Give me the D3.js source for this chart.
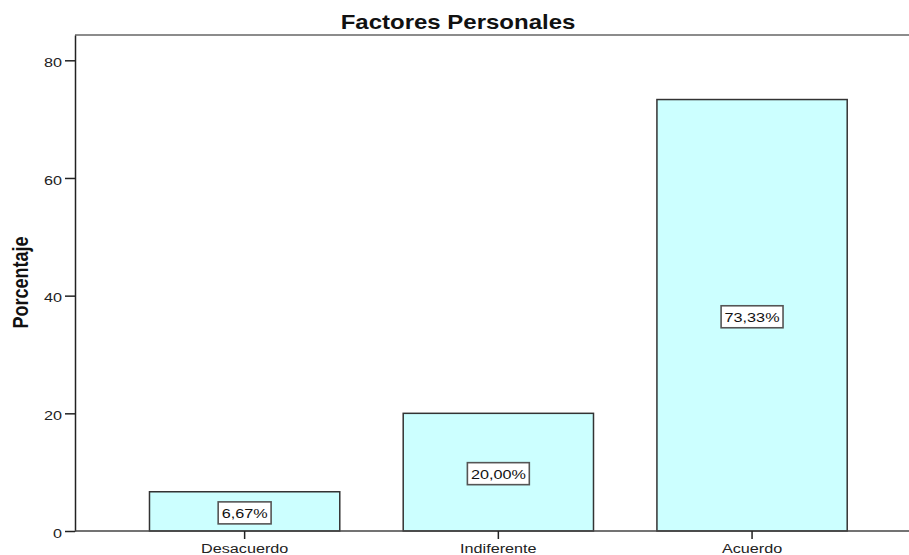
<!DOCTYPE html>
<html>
<head>
<meta charset="utf-8">
<script src="https://cdn.jsdelivr.net/npm/d3@7"></script>
<style>
  html, body { margin: 0; padding: 0; background: #ffffff; }
  svg { display: block; font-family: Arial, "Liberation Sans", Helvetica, sans-serif; }
</style>
</head>
<body>
<svg id="chart" width="909" height="555"></svg>
<script>
// Chart data
const categories = ["Desacuerdo", "Indiferente", "Acuerdo"];
const percentages = [6.67, 20.00, 73.33];
const yTicks = [0, 20, 40, 60, 80];
const titleText = "Factores Personales";
const yLabel = "Porcentaje";

const W = 909, H = 555;
const stretch = 1.2; // horizontal text stretch
const plot = { left: 75, right: 921.7, top: 35, bottom: 531 };

const svg = d3.select("#chart");

const x = d3.scaleBand()
  .domain(categories)
  .range([plot.left, plot.right])
  .paddingInner(0.25)
  .paddingOuter(0.2936);

const y = d3.scaleLinear()
  .domain([0, 84.3])
  .range([plot.bottom, plot.top]);

const fmt = v => v.toFixed(2).replace(".", ",") + "%";

// Top frame line
svg.append("line")
  .attr("x1", plot.left).attr("x2", W)
  .attr("y1", plot.top).attr("y2", plot.top)
  .attr("stroke", "#8c8c8c").attr("stroke-width", 2);

// Bars
svg.append("g").selectAll("rect")
  .data(percentages)
  .join("rect")
  .attr("x", (d, i) => x(categories[i]))
  .attr("y", d => y(d))
  .attr("width", x.bandwidth())
  .attr("height", d => y(0) - y(d))
  .attr("fill", "#ccffff")
  .attr("stroke", "#333333")
  .attr("stroke-width", 1.5);

// Y axis
const yAxis = svg.append("g")
  .attr("transform", `translate(${plot.left},0)`)
  .call(d3.axisLeft(y).tickValues(yTicks).tickSize(10).tickSizeOuter(0).tickPadding(3));
yAxis.select(".domain").attr("stroke", "#222").attr("stroke-width", 1.5);
yAxis.selectAll(".tick line").attr("stroke", "#222").attr("stroke-width", 1.5);
yAxis.selectAll(".tick text")
  .attr("x", 0)
  .attr("dy", "0.45em")
  .attr("transform", `translate(-13,0) scale(${stretch},1)`)
  .attr("font-size", 13.5)
  .attr("font-family", "Arial, 'Liberation Sans', sans-serif")
  .attr("fill", "#222");

// X axis
const xAxis = svg.append("g")
  .attr("transform", `translate(0,${plot.bottom})`)
  .call(d3.axisBottom(x).tickSize(8).tickSizeOuter(0).tickPadding(4));
xAxis.select(".domain")
  .attr("d", `M${plot.left},0H${W}`)
  .attr("stroke", "#444").attr("stroke-width", 1.5);
xAxis.selectAll(".tick line").attr("stroke", "#222").attr("stroke-width", 1.5);
xAxis.selectAll(".tick text")
  .attr("y", 0)
  .attr("dy", "0.71em")
  .attr("transform", `translate(0,12) scale(${stretch},1)`)
  .attr("font-size", 13.5)
  .attr("font-family", "Arial, 'Liberation Sans', sans-serif")
  .attr("fill", "#222");

// Value labels in boxes
const labels = svg.append("g").selectAll("g")
  .data(percentages)
  .join("g")
  .attr("transform", (d, i) =>
    `translate(${x(categories[i]) + x.bandwidth() / 2},${(y(d) + y(0)) / 2 + 1.5})`);

labels.each(function (d) {
  const g = d3.select(this);
  const rect = g.append("rect");
  const t = g.append("text")
    .attr("text-anchor", "middle")
    .attr("dy", "0.36em")
    .attr("transform", `scale(${stretch},1)`)
    .attr("font-size", 13.5)
    .attr("fill", "#111")
    .text(fmt(d));
  const w = t.node().getComputedTextLength() * stretch + 7;
  rect.attr("x", -w / 2).attr("y", -11).attr("width", w).attr("height", 22)
    .attr("fill", "#ffffff").attr("stroke", "#555555").attr("stroke-width", 1.6);
});

// Title
svg.append("text")
  .attr("transform", `translate(458,29.3) scale(${stretch},1)`)
  .attr("text-anchor", "middle")
  .attr("font-size", 20)
  .attr("font-weight", "bold")
  .attr("fill", "#111")
  .text(titleText);

// Y axis title
svg.append("text")
  .attr("transform", `translate(28,282.5) scale(${stretch},1) rotate(-90)`)
  .attr("text-anchor", "middle")
  .attr("font-size", 18)
  .attr("font-weight", "bold")
  .attr("fill", "#111")
  .text(yLabel);
</script>
</body>
</html>
